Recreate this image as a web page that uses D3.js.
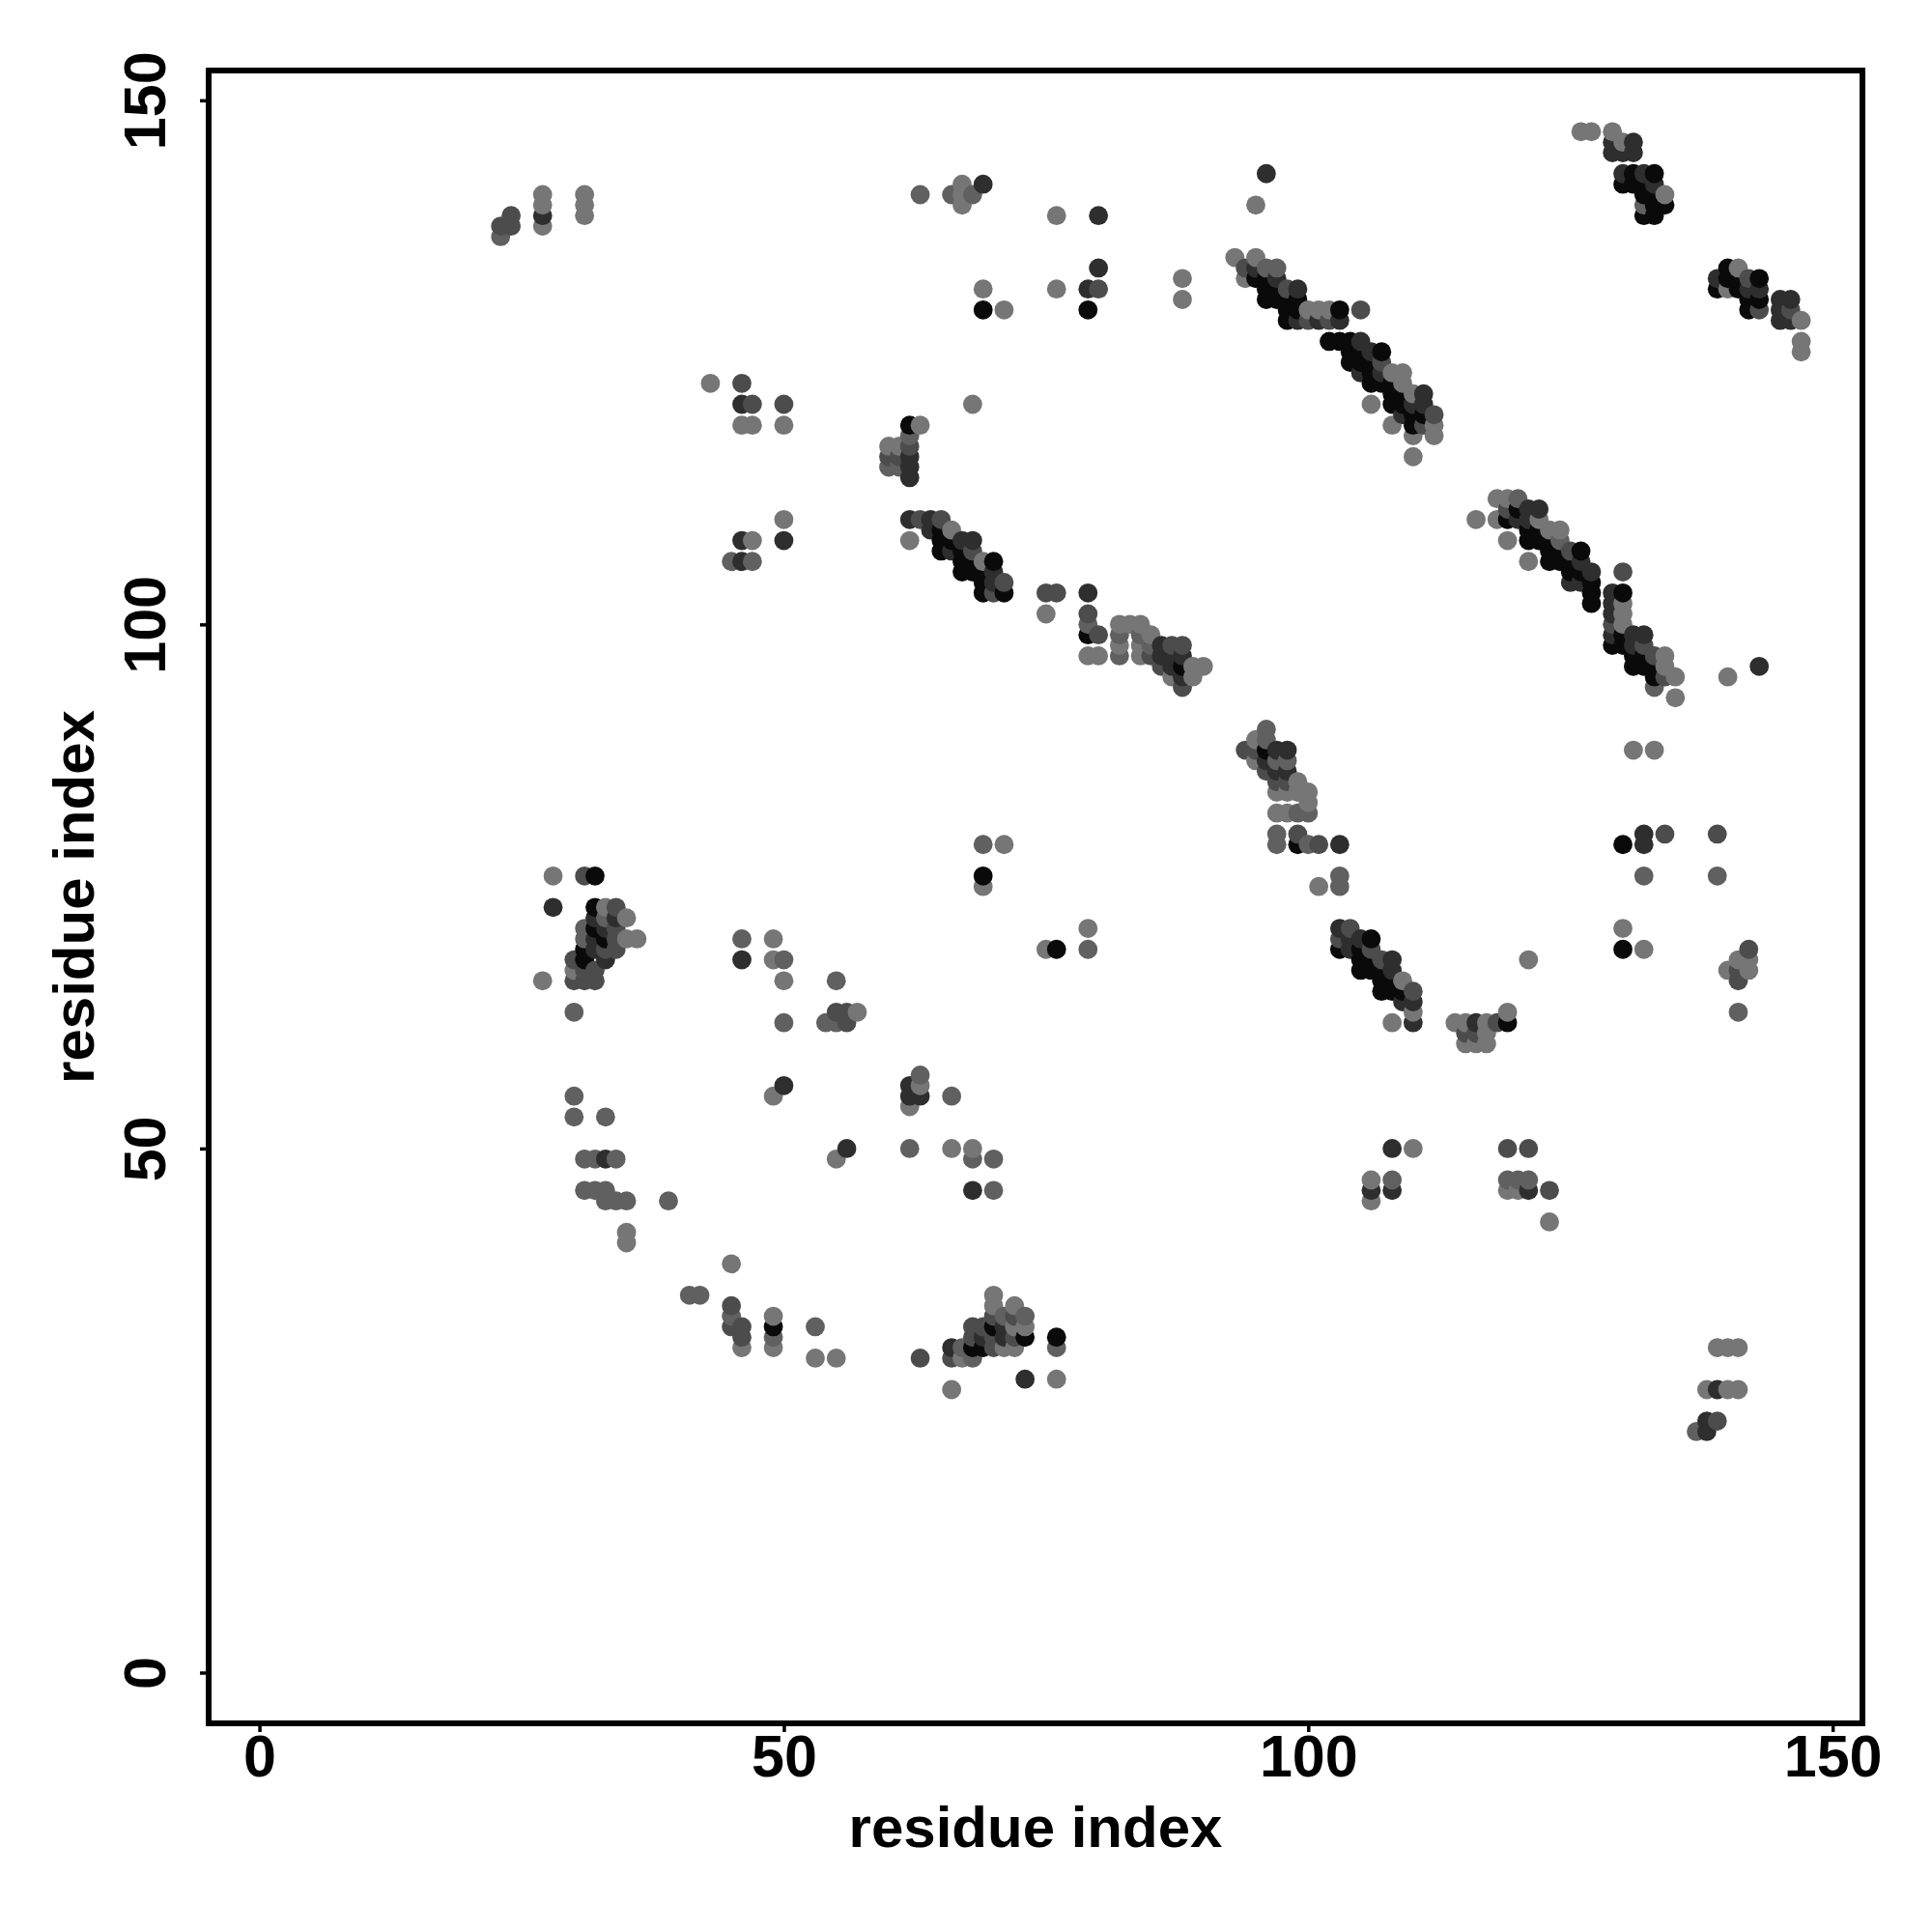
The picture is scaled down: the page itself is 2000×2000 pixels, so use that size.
<!DOCTYPE html>
<html><head><meta charset="utf-8">
<script src="https://cdn.jsdelivr.net/npm/d3@7"></script>
<style>html,body{margin:0;background:#fff}svg{display:block}text{font-family:"Liberation Sans",Arial,sans-serif;font-weight:700;fill:#000}</style>
</head><body><div id="chart"></div>
<script>
const tickValues=[0,50,100,150];
const xTitle="residue index", yTitle="residue index";
const dataExtent=[1,147];
const grayLevels=[10,46,76,96,118];
const contactsBlack=[[69,130],[79,130],[95,133],[96,133],[96,132],[96,131],[97,132],[97,131],[98,131],[98,130],[99,130],[98,129],[99,131],[103,130],[102,127],[103,127],[104,127],[107,126],[104,126],[105,126],[104,125],[105,125],[106,125],[106,124],[106,123],[107,123],[108,123],[108,122],[109,122],[108,121],[109,121],[110,120],[111,120],[110,119],
[131,143],[133,143],[130,142],[131,142],[132,142],[132,141],[133,141],[133,140],[134,140],[132,139],[133,139],[140,134],[140,133],[141,133],[143,133],[139,132],[141,132],[142,131],[143,131],[142,130],
[119,110],[120,111],[121,109],[122,109],[121,108],[122,108],[123,108],[123,107],[123,106],[124,107],[124,106],[126,107],[125,106],[125,105],[126,105],[127,104],[127,103],[127,102],[130,103],[129,98],[130,99],[130,98],[131,97],[132,97],[131,96],[132,96],[133,96],[133,95],
[65,109],[65,108],[66,108],[65,107],[67,107],[67,106],[68,106],[70,106],[67,105],[68,105],[69,105],[69,104],[69,103],[71,103],[79,99],[88,96],[96,88],[99,79],
[103,69],[105,69],[106,70],[105,68],[106,68],[105,67],[106,67],[107,67],[107,66],[108,66],[107,65],[108,65],[109,65],[119,62],
[32,76],[32,73],[32,71],[33,70],[31,69],[31,68],[70,33],[68,31],[69,31],[73,32],[76,32],[49,33],[69,76],[76,69],[130,79],[130,69],[62,119]];
const contactsDark=[[27,139],[80,139],[79,132],[80,134],[69,142],[96,143],[95,134],[97,133],[99,132],[99,129],[103,129],[101,129],[105,127],[106,126],[107,124],[105,124],[111,122],[110,121],[111,121],[109,120],
[129,146],[131,146],[129,145],[130,145],[131,145],[132,143],[133,142],[130,143],[139,133],[142,132],[143,132],[145,131],[146,131],[145,130],[145,129],[146,129],
[120,110],[121,111],[122,111],[121,110],[125,104],[126,104],[126,106],[127,105],[129,103],[129,102],[129,101],[129,99],[131,99],[132,99],[131,98],
[62,110],[64,110],[64,109],[67,108],[68,108],[66,107],[70,105],[70,104],[79,103],[86,98],[86,97],[87,97],[87,96],[88,97],[88,95],
[96,87],[97,88],[98,88],[97,86],[98,86],[103,79],[103,71],[104,70],[105,70],[104,69],[108,68],[108,67],[109,64],[110,64],[110,62],[116,62],
[28,73],[32,72],[34,72],[33,71],[32,70],[33,68],[32,69],[69,32],[71,33],[71,32],[66,31],[73,28],[50,56],[56,50],[62,55],[63,55],[62,56],[33,49],[68,46],[106,46],[108,50],[108,46],[121,46],[139,27],[138,24],[138,23],[46,68],[46,121],[46,108],[50,108],[46,106],[62,116],[62,115],[62,114],[132,80],[132,79],[143,96]];
const contactsDim=[[23,138],[24,139],[24,138],[80,132],[94,134],[98,132],[100,129],[102,129],[105,130],[107,125],[112,120],[111,119],[119,111],
[130,105],[129,100],[125,107],[133,97],[134,95],[142,133],[143,130],[146,130],[132,98],
[63,110],[65,110],[68,107],[71,104],[70,103],[76,103],[75,103],[79,101],[80,99],[87,98],[88,98],[85,97],[86,96],[88,94],
[94,88],[95,88],[97,85],[98,85],[96,86],[99,80],[101,79],[116,61],[115,61],[118,62],[104,71],[103,70],[106,69],[107,68],[110,65],
[31,76],[34,73],[33,69],[34,69],[34,71],[34,70],[30,68],[31,67],[32,67],[30,66],[31,66],[32,66],[70,34],[72,34],[68,33],[69,33],[68,32],[70,32],[72,32],[66,30],[70,31],[63,30],
[46,123],[47,121],[50,121],[45,35],[45,33],[46,33],[46,32],[55,63],[56,63],[56,62],[119,50],[121,50],[123,46],[139,24],[134,80],[139,80],[142,69],[141,67],[141,66],[62,117],[61,116],[60,116]];
const contactsMid=[[23,137],[63,141],[66,141],[68,141],[97,79],[97,80],[96,134],[97,134],[120,112],[124,108],[132,140],[133,94],
[85,98],[84,99],[82,99],[96,90],[96,89],[97,87],[98,87],[100,79],[103,76],[103,75],[99,82],[100,82],[82,97],
[30,63],[33,72],[31,71],[31,70],[30,55],[30,53],[33,53],[31,49],[32,49],[34,49],[31,46],[32,46],[33,46],[33,45],[34,45],[35,45],[39,45],[41,36],[42,36],[45,34],[49,32],[53,33],[73,34],[71,34],[67,31],[68,30],[76,31],
[46,70],[50,68],[50,62],[55,66],[54,62],[55,62],[63,57],[66,55],[62,50],[68,49],[70,49],[70,46],[108,47],[119,47],[120,47],[121,47],[132,76],[139,76],[141,63],[137,23],[79,69],[69,79],[47,106],[45,106],[60,115],[61,115],[62,118],[79,100]];
const contactsGrey=[[27,141],[27,140],[27,138],[31,141],[31,140],[31,139],[67,142],[67,141],[67,140],[76,139],[76,132],[69,132],[71,130],[88,133],[88,131],[95,140],[93,135],[95,135],[94,133],[100,130],[101,130],[102,130],[108,124],[109,124],[109,123],[110,122],[112,119],[110,118],[112,118],[110,116],[106,121],[108,119],
[126,147],[127,147],[129,147],[130,146],[134,141],[141,134],[140,132],[147,129],[147,127],[147,126],
[118,112],[119,112],[116,110],[118,110],[122,110],[119,108],[121,106],[123,109],[124,109],[130,102],[130,101],[130,100],[134,97],[134,96],[135,95],[135,93],[140,95],
[62,108],[66,109],[69,106],[75,101],[79,97],[80,97],[82,100],[83,100],[84,100],[85,99],[82,98],[84,98],[84,97],[89,96],[90,96],[87,95],[89,95],
[95,89],[95,87],[99,85],[97,84],[98,84],[99,84],[100,84],[100,83],[97,82],[98,82],[101,75],[109,66],[110,63],[108,62],[114,62],[115,62],[117,62],[119,63],[121,68],[117,61],[115,60],[116,60],[117,60],
[28,76],[33,73],[35,72],[36,70],[35,70],[30,67],[27,66],[35,42],[35,41],[45,39],[49,34],[49,31],[46,31],[53,30],[55,30],[70,36],[70,35],[72,35],[72,33],[73,33],[71,31],[72,31],[67,30],[66,27],[76,28],
[43,123],[46,119],[47,119],[50,119],[68,121],[63,119],[50,110],[47,108],[60,117],[61,117],[131,88],[133,88],[130,71],[132,69],[141,68],[142,68],[140,67],[142,67],[71,79],[69,75],[75,69],[79,71],[49,70],[49,68],[50,66],[57,63],[49,55],[63,56],[62,54],[66,50],[68,50],[55,49],[106,47],[106,45],[110,50],[119,46],[120,46],[123,43],[139,31],[140,31],[141,31],[138,27],[140,27],[141,27]];
const contactGroups=[contactsBlack,contactsDark,contactsDim,contactsMid,contactsGrey];

const W=2000,H=2000,L=216,R=1928,T=73,B=1784;
const pad=(dataExtent[1]-dataExtent[0])*0.04;
const x=d3.scaleLinear().domain([dataExtent[0]-pad,dataExtent[1]+pad]).range([L,R]);
const y=d3.scaleLinear().domain([dataExtent[0]-pad,dataExtent[1]+pad]).range([B,T]);
const svg=d3.select("#chart").append("svg").attr("width",W).attr("height",H);

const points=[];
contactGroups.forEach((g,i)=>g.forEach(p=>points.push({x:p[0],y:p[1],g:grayLevels[i]})));
// later (right-most, then upper) residues are painted on top, as in the reference
points.sort((a,b)=>d3.ascending(a.x,b.x)||d3.ascending(a.y,b.y));
svg.append("g").selectAll("circle").data(points).join("circle")
  .attr("cx",d=>x(d.x)).attr("cy",d=>y(d.y)).attr("r",9.9)
  .attr("fill",d=>d3.rgb(d.g,d.g,d.g).formatHex());

svg.append("rect").attr("x",L).attr("y",T).attr("width",R-L).attr("height",B-T)
  .attr("fill","none").attr("stroke","#000").attr("stroke-width",6);

const ax=svg.append("g").attr("transform",`translate(0,${B})`)
  .call(d3.axisBottom(x).tickValues(tickValues).tickSize(9).tickFormat(d3.format("d")));
const ay=svg.append("g").attr("transform",`translate(${L},0)`)
  .call(d3.axisLeft(y).tickValues(tickValues).tickSize(9).tickFormat(d3.format("d")));
[ax,ay].forEach(a=>{a.select(".domain").remove();a.selectAll("line").attr("stroke","#000").attr("stroke-width",3.5);
  a.selectAll("text").attr("font-size",61).attr("font-family",'"Liberation Sans"').attr("font-weight",700).attr("fill","#000");});
ay.selectAll("text").attr("text-anchor","middle").attr("dy",0).attr("x",0).attr("y",0)
  .attr("transform","translate(-45,0) rotate(-90)");
ax.selectAll("text").attr("dy",0).attr("y",55);
svg.append("text").attr("x",(L+R)/2).attr("y",1912).attr("text-anchor","middle").attr("font-size",60).text(xTitle);
svg.append("text").attr("transform",`translate(97,${(T+B)/2}) rotate(-90)`).attr("text-anchor","middle").attr("font-size",60).text(yTitle);
</script></body></html>
